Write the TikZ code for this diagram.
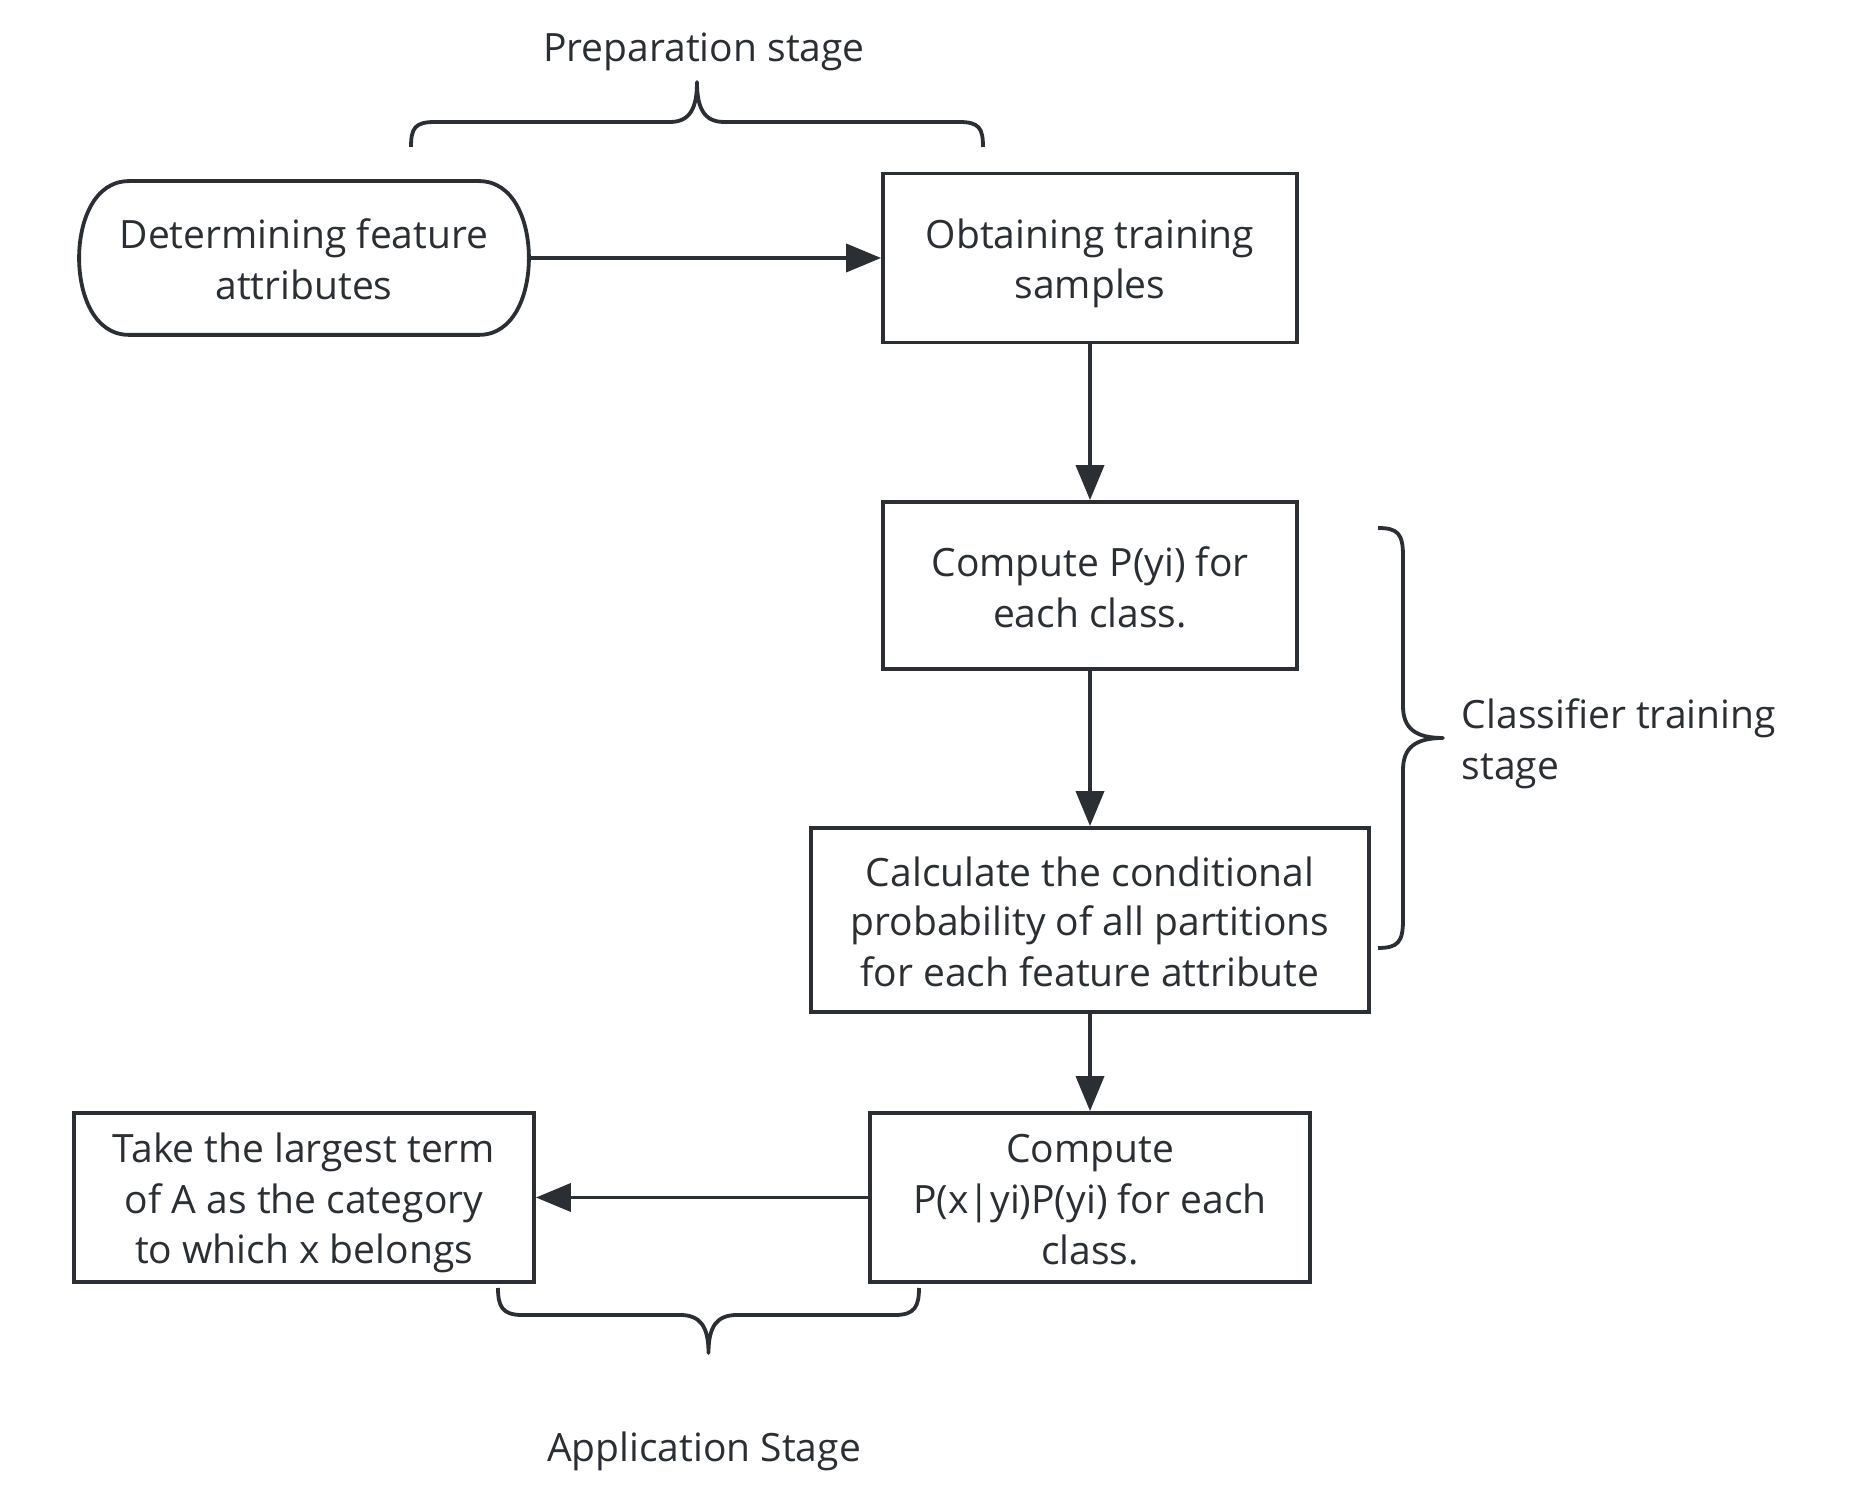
\documentclass[tikz,border=0pt]{standalone}
\usepackage{fontspec}
\setmainfont{Open Sans}
\usetikzlibrary{arrows.meta}
\definecolor{ink}{RGB}{43,46,50}
\newcommand\sline{\rule[-8pt]{0pt}{48.5pt}}
\begin{document}
\begin{tikzpicture}[x=1pt,y=1pt,color=ink,line width=3.8pt,
  txt/.style={text=ink, inner sep=0pt, align=center, font=\fontsize{39}{49}\selectfont},
  box/.style={txt, draw=ink, line width=3.8pt},
  arr/.style={draw=ink, line width=3.8pt, -{Triangle[length=35pt,width=28pt]}},
  brace/.style={draw=ink, line width=3.8pt, line join=round}]
\useasboundingbox (0,0) rectangle (1873,1496);
\fill[white] (0,0) rectangle (1873,1496);

% nodes
\node[txt, minimum width=446pt, minimum height=150pt] (n1) at (304,1238) {\sline Determining feature\\\sline attributes};
\draw[line width=3.8pt, line join=round]
  ([xshift=50pt]n1.north west) -- ([xshift=-50pt]n1.north east)
  .. controls ([xshift=-15pt]n1.north east) and ([yshift=-40pt]n1.north east) .. (n1.east)
  .. controls ([yshift=40pt]n1.south east) and ([xshift=-15pt]n1.south east) .. ([xshift=-50pt]n1.south east)
  -- ([xshift=50pt]n1.south west)
  .. controls ([xshift=15pt]n1.south west) and ([yshift=40pt]n1.south west) .. (n1.west)
  .. controls ([yshift=-40pt]n1.north west) and ([xshift=15pt]n1.north west) .. ([xshift=50pt]n1.north west) -- cycle;

\node[box, minimum width=414pt, minimum height=169pt] (n2) at (1090,1238) {\sline Obtaining training\\\sline samples};
\node[box, minimum width=414pt, minimum height=167pt] (n3) at (1090,910.5) {\sline Compute P(yi) for\\\sline each class.};
\node[box, minimum width=558pt, minimum height=184pt] (n4) at (1090,576) {\sline Calculate the conditional\\\sline probability of all partitions\\\sline for each feature attribute};
\node[box, minimum width=440pt, minimum height=169pt] (n5) at (1090,298.5) {\sline Compute\\\sline P(x|yi)P(yi) for each\\\sline class.};
\node[box, minimum width=460pt, minimum height=169pt] (n6) at (304,298.5) {\sline Take the largest term\\\sline of A as the category\\\sline to which x belongs};

% connectors
\draw[arr] (n1.east) -- (n2.west);
\draw[arr] (n2.south) -- (n3.north);
\draw[arr] (n3.south) -- (n4.north);
\draw[arr] (n4.south) -- (n5.north);
\draw[arr] (n5.west) -- (n6.east);

% braces
\draw[brace] (411,1349) .. controls (411,1368) and (415,1374) .. (435,1374) -- (670,1374)
  .. controls (690,1374) and (697,1388) .. (697,1414)
  .. controls (697,1388) and (704,1374) .. (724,1374) -- (959,1374)
  .. controls (979,1374) and (983,1368) .. (983,1349);
\draw[brace] (1378,968) .. controls (1398,968) and (1403,962) .. (1403,940) -- (1403,790)
  .. controls (1403,768) and (1415,758) .. (1443,758)
  .. controls (1415,758) and (1403,748) .. (1403,726) -- (1403,576)
  .. controls (1403,554) and (1398,548) .. (1378,548);
\draw[brace] (498,208) .. controls (498,190) and (502,181) .. (522,181) -- (680,181)
  .. controls (700,181) and (708.5,170) .. (708.5,143)
  .. controls (708.5,170) and (717,181) .. (737,181) -- (895,181)
  .. controls (915,181) and (919,190) .. (919,208);

% labels
\node[txt, anchor=base] (prep) at (704,1434) {Preparation stage};
\node[txt, anchor=west, align=left] (cls) at (1460,757.5) {\sline Classifier training\\\sline stage};
\node[txt, anchor=base] (app) at (704,35) {Application Stage};
\end{tikzpicture}
\end{document}
